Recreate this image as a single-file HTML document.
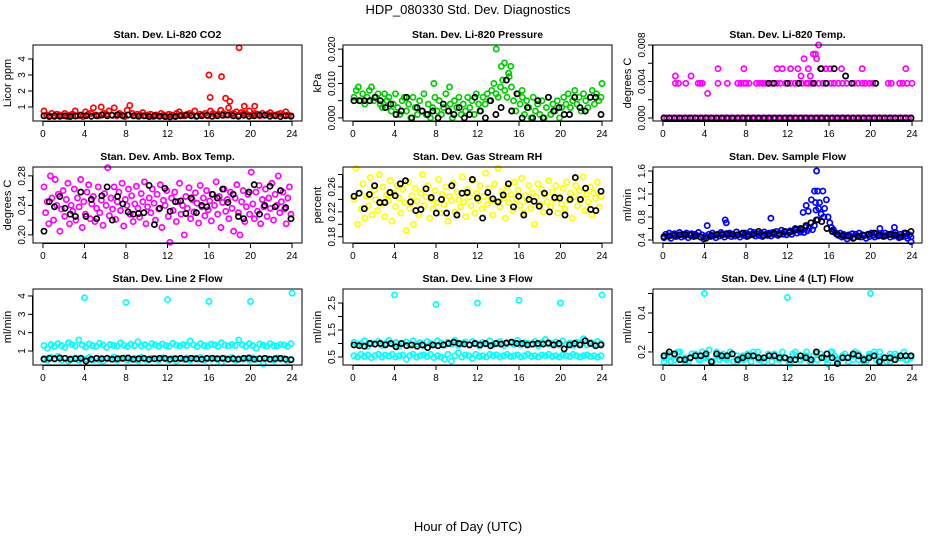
<!DOCTYPE html>
<html><head><meta charset="utf-8"><style>
body{margin:0;background:#fff}
svg{display:block;font-family:"Liberation Sans",Arial,sans-serif}
</style></head><body>
<svg id="chart" width="936" height="540" viewBox="0 0 936 540">
<text x="468" y="14" text-anchor="middle" font-size="13">HDP_080330  Std. Dev. Diagnostics</text>
<text x="468" y="531" text-anchor="middle" font-size="13">Hour of Day (UTC)</text>
</svg>
<script>
// ---------- data ----------
const xTicks = [0,4,8,12,16,20,24];
const co2Color = [0.75,0.5,0.45,0.6,0.4,0.55,0.5,0.45,0.6,0.4,0.5,0.55,0.75,0.45,0.5,0.4,0.7,0.55,0.6,0.95,0.5,0.45,1.0,0.6,0.55,0.75,0.5,0.95,0.45,0.6,0.5,0.4,0.8,1.1,0.6,0.45,0.55,0.5,0.65,0.45,0.5,0.55,0.4,0.5,0.45,0.6,0.5,0.4,0.55,0.5,0.45,0.6,0.7,0.5,0.45,0.55,0.6,0.5,0.75,0.45,0.55,0.5,0.6,0.45,0.75,0.6,0.5,0.55,0.8,0.6,0.5,0.95,0.55,0.6,0.7,0.5,0.65,0.6,0.55,0.75,0.5,0.6,0.55,0.45,0.6,0.5,0.55,0.65,0.5,0.45,0.55,0.6,0.5,0.7,0.5,0.45];
const co2OutHours = [16,16.1,17.2,17.6,18,18.9,19.4,20.4];
const co2OutVals = [3.0,1.6,2.9,1.55,1.35,4.7,1.05,1.05];
const co2Black = [0.45,0.4,0.45,0.42,0.45,0.4,0.44,0.48,0.45,0.42,0.45,0.5,0.45,0.48,0.52,0.45,0.5,0.45,0.42,0.45,0.4,0.45,0.42,0.4,0.38,0.4,0.45,0.48,0.45,0.42,0.45,0.48,0.42,0.45,0.48,0.5,0.45,0.42,0.48,0.42,0.45,0.5,0.48,0.42,0.45,0.4,0.45,0.42];

const presColor = [0.006,0.008,0.009,0.005,0.007,0.004,0.006,0.008,0.009,0.005,0.006,0.007,0.004,0.003,0.007,0.005,0.006,0.002,0.004,0.007,0.003,0.001,0.005,0.006,0.002,0.004,0.000,0.006,0.003,0.001,0.005,0.002,0.007,0.001,0.004,0.000,0.003,0.006,0.002,0.005,0.001,0.003,0.007,0.002,0.004,0.000,0.005,0.003,0.006,0.001,0.004,0.002,0.006,0.003,0.005,0.001,0.007,0.004,0.002,0.006,0.004,0.007,0.005,0.008,0.010,0.007,0.006,0.009,0.011,0.008,0.006,0.012,0.009,0.005,0.002,0.007,0.004,0.006,0.001,0.005,0.003,0.000,0.006,0.002,0.004,0.001,0.005,0.000,0.003,0.006,0.001,0.004,0.002,0.005,0.000,0.003,0.006,0.004,0.007,0.003,0.005,0.008,0.004,0.006,0.002,0.007,0.005,0.003,0.006,0.008,0.004,0.007,0.005,0.006];
const presOutHours = [7.8,13.8,14.3,14.6,15.0,15.2,24.0,9.3,16.3];
const presOutVals = [0.010,0.020,0.015,0.016,0.013,0.015,0.010,0.009,0.008];
const presBlack = [0.005,0.005,0.005,0.005,0.006,0.005,0.003,0.004,0.001,0.002,0.006,0.000,0.003,0.002,0.001,0.002,0.000,0.004,0.002,0.001,0.003,0.000,0.001,0.006,0.002,0.000,0.005,0.001,0.003,0.011,0.002,0.007,0.000,0.003,0.000,0.005,0.000,0.006,0.002,0.003,0.001,0.001,0.006,0.003,0.002,0.006,0.006,0.001];

const tempColor = [0,0,0,0,0,0,0,0,0,0,0,0,0,0,0,0,0,0,0,0,0,0,0,0,0,0,0,0,0,0,0,0,0,0,0,0,0,0,0,0,0,0,0,0,0,0,0,0,0,0,0,0,0,0,0,0,0,0,0,0,0,0,0,0,0,0,0,0,0,0,0,0,0,0,0,0,0,0,0,0,0,0,0,0,0,0,0,0,0,0,0,0,0,0,0,0];
const tempHighHours = [1.2,1.5,2.2,3.4,3.6,3.8,5.3,6.2,7.2,7.5,7.8,8.0,8.3,9.0,9.3,9.6,9.9,10.2,10.5,11.0,11.3,11.8,12.3,12.7,13.0,13.4,13.8,14.0,14.3,14.6,15.0,15.4,15.8,16.2,16.5,16.9,17.3,17.7,18.4,18.8,19.2,19.5,19.9,20.2,21.7,22.0,22.8,23.1,23.5,24.0,1.2,2.7,4.3,5.3,7.8,11.0,11.5,12.3,13.0,13.3,13.6,14.0,14.2,14.5,14.7,14.8,15.0,15.3,15.7,16.1,17.2,19.2,23.4];
const tempHighVals = [0.0038,0.0038,0.0038,0.0038,0.0038,0.0038,0.0038,0.0038,0.0038,0.0038,0.0038,0.0038,0.0038,0.0038,0.0038,0.0038,0.0038,0.0038,0.0038,0.0038,0.0038,0.0038,0.0038,0.0038,0.0038,0.0038,0.0038,0.0038,0.0038,0.0038,0.0038,0.0038,0.0038,0.0038,0.0038,0.0038,0.0038,0.0038,0.0038,0.0038,0.0038,0.0038,0.0038,0.0038,0.0038,0.0038,0.0038,0.0038,0.0038,0.0038,0.0046,0.0046,0.0027,0.0054,0.0054,0.0054,0.0054,0.0054,0.0054,0.0046,0.0065,0.0054,0.0046,0.0070,0.0070,0.0065,0.0080,0.0054,0.0054,0.0054,0.0054,0.0054,0.0054];
const tempBlack = [0,0,0,0,0,0,0,0,0,0,0,0,0,0,0,0,0,0,0,0,0,0,0,0,0,0,0,0,0,0,0,0,0,0,0,0,0,0,0,0,0,0,0,0,0,0,0,0];
const tempBlackOutHours = [10.2,10.7,12.0,13.1,14.5,15.7,17.6,18.2,20.5,15.2,16.5];
const tempBlackOutVals = [0.0038,0.0038,0.0038,0.0038,0.0038,0.0038,0.0046,0.0038,0.0038,0.0054,0.0054];

const ambColor = [0.265,0.23,0.245,0.215,0.28,0.25,0.22,0.275,0.24,0.255,0.205,0.235,0.26,0.225,0.248,0.27,0.215,0.24,0.232,0.262,0.22,0.25,0.238,0.275,0.21,0.245,0.228,0.258,0.268,0.222,0.242,0.252,0.218,0.236,0.265,0.23,0.247,0.213,0.256,0.24,0.291,0.226,0.25,0.235,0.265,0.221,0.245,0.258,0.233,0.27,0.212,0.248,0.24,0.262,0.228,0.253,0.218,0.242,0.266,0.236,0.224,0.256,0.245,0.272,0.215,0.238,0.25,0.23,0.262,0.243,0.22,0.255,0.235,0.268,0.21,0.247,0.24,0.26,0.225,0.19,0.25,0.233,0.258,0.218,0.245,0.27,0.228,0.24,0.2,0.252,0.236,0.264,0.222,0.248,0.231,0.257,0.243,0.216,0.267,0.238,0.25,0.226,0.26,0.234,0.246,0.219,0.255,0.24,0.272,0.228,0.252,0.21,0.244,0.262,0.232,0.248,0.222,0.258,0.236,0.205,0.25,0.268,0.23,0.2,0.245,0.26,0.218,0.238,0.255,0.228,0.285,0.242,0.222,0.258,0.232,0.267,0.215,0.248,0.238,0.262,0.225,0.25,0.236,0.27,0.22,0.255,0.24,0.28,0.23,0.245,0.258,0.235,0.215,0.25,0.265,0.228];
const ambBlack = [0.205,0.245,0.238,0.252,0.236,0.228,0.225,0.258,0.225,0.248,0.222,0.253,0.265,0.22,0.252,0.242,0.231,0.228,0.229,0.23,0.267,0.214,0.236,0.263,0.232,0.245,0.246,0.229,0.25,0.23,0.24,0.238,0.255,0.25,0.262,0.244,0.255,0.225,0.222,0.258,0.268,0.228,0.24,0.266,0.238,0.26,0.237,0.222];

const rhColor = [0.24,0.29,0.2,0.25,0.225,0.265,0.21,0.245,0.23,0.275,0.215,0.255,0.24,0.222,0.28,0.233,0.26,0.212,0.248,0.238,0.27,0.205,0.25,0.228,0.262,0.242,0.218,0.256,0.235,0.19,0.268,0.226,0.246,0.2,0.258,0.237,0.215,0.25,0.28,0.23,0.244,0.262,0.21,0.24,0.225,0.254,0.235,0.272,0.218,0.248,0.232,0.26,0.205,0.245,0.238,0.266,0.22,0.252,0.24,0.228,0.276,0.236,0.212,0.256,0.244,0.23,0.27,0.218,0.25,0.238,0.262,0.225,0.245,0.282,0.232,0.258,0.24,0.215,0.265,0.236,0.29,0.228,0.252,0.242,0.21,0.26,0.235,0.248,0.222,0.268,0.24,0.255,0.23,0.274,0.218,0.246,0.238,0.262,0.226,0.25,0.2,0.244,0.265,0.232,0.256,0.22,0.248,0.236,0.27,0.228,0.252,0.24,0.262,0.218,0.245,0.233,0.258,0.225,0.268,0.238,0.25,0.21,0.244,0.262,0.23,0.254,0.24,0.276,0.222,0.248,0.236,0.26,0.215,0.25,0.242,0.268,0.228,0.245];
const rhBlack = [0.245,0.25,0.225,0.248,0.262,0.235,0.235,0.251,0.246,0.265,0.27,0.236,0.222,0.224,0.257,0.243,0.218,0.24,0.218,0.262,0.215,0.25,0.251,0.272,0.242,0.21,0.251,0.241,0.236,0.247,0.265,0.228,0.245,0.215,0.24,0.237,0.229,0.25,0.22,0.243,0.242,0.215,0.24,0.275,0.24,0.258,0.224,0.222,0.253];

const flowColor = [0.44,0.5,0.47,0.52,0.43,0.49,0.51,0.46,0.48,0.53,0.45,0.5,0.47,0.52,0.44,0.49,0.51,0.46,0.5,0.48,0.53,0.45,0.49,0.42,0.47,0.65,0.5,0.46,0.52,0.48,0.44,0.5,0.47,0.53,0.49,0.45,0.51,0.48,0.52,0.46,0.5,0.47,0.54,0.49,0.45,0.51,0.48,0.52,0.46,0.5,0.55,0.49,0.53,0.47,0.51,0.48,0.52,0.46,0.54,0.5,0.48,0.52,0.47,0.53,0.5,0.55,0.48,0.52,0.57,0.5,0.54,0.49,0.53,0.56,0.5,0.55,0.6,0.52,0.57,0.54,0.58,0.53,0.62,0.56,0.6,0.7,0.58,0.65,0.92,0.75,1.05,0.85,1.25,0.95,1.1,0.8,0.7,0.62,0.58,0.53,0.5,0.48,0.52,0.45,0.5,0.47,0.42,0.49,0.46,0.51,0.44,0.5,0.47,0.52,0.45,0.49,0.48,0.43,0.5,0.46,0.52,0.48,0.45,0.51,0.47,0.6,0.49,0.46,0.52,0.48,0.5,0.45,0.51,0.47,0.53,0.48,0.44,0.5,0.46,0.52,0.47,0.43,0.49,0.45];
const flowOutHours = [14.8,14.6,14.9,13.8,14.0,14.3,13.5,14.7,15.0,6.0,6.1,10.4,15.5,22.3,23.9];
const flowOutVals = [1.6,1.25,1.25,1.0,0.9,1.1,0.88,1.05,0.95,0.75,0.7,0.78,0.8,0.62,0.37];
const flowBlack = [0.46,0.47,0.48,0.49,0.5,0.48,0.47,0.45,0.43,0.48,0.49,0.5,0.51,0.5,0.49,0.52,0.47,0.5,0.55,0.48,0.5,0.52,0.5,0.55,0.54,0.58,0.6,0.65,0.7,0.75,0.72,0.6,0.55,0.5,0.48,0.47,0.43,0.46,0.48,0.5,0.52,0.48,0.47,0.5,0.49,0.45,0.52,0.55];

const line2High = [1.3,1.15,1.35,1.25,1.4,1.3,1.2,1.45,1.35,1.28,1.6,1.32,1.22,1.38,1.3,1.25,1.42,1.33,1.2,1.36,1.3,1.27,1.44,1.31,1.24,1.37,1.3,1.5,1.28,1.35,1.22,1.4,1.33,1.26,1.38,1.3,1.25,1.42,1.32,1.28,1.36,1.3,1.55,1.34,1.24,1.4,1.3,1.27,1.37,1.33,1.25,1.45,1.32,1.28,1.36,1.3,1.6,1.34,1.25,1.4,1.3,1.15,1.38,1.32,1.26,1.4,1.3,1.28,1.36,1.33,1.25,1.4];
const line2Low = [0.6,0.5,0.65,0.55,0.7,0.5,0.6,0.45,0.55,0.62,0.5,0.58,0.55,0.65,0.5,0.6,0.52,0.45,0.6,0.55,0.68,0.5,0.58,0.62,0.5,0.55,0.6,0.48,0.65,0.55,0.5,0.6,0.57,0.52,0.63,0.55,0.5,0.6,0.45,0.58,0.55,0.62,0.5,0.6,0.55,0.65,0.5,0.58,0.55,0.6,0.52,0.35,0.6,0.55,0.65,0.5,0.58,0.55,0.6,0.5,0.62,0.55,0.58,0.3,0.6,0.55,0.5,0.62,0.55,0.6,0.45,0.55];
const line2OutHours = [4,8,12,16,20,24];
const line2OutVals = [3.9,3.65,3.8,3.7,3.7,4.15];
const line2Black = [0.55,0.6,0.58,0.62,0.6,0.55,0.58,0.6,0.45,0.55,0.6,0.58,0.6,0.55,0.58,0.6,0.62,0.55,0.58,0.6,0.55,0.58,0.6,0.6,0.55,0.58,0.6,0.55,0.6,0.58,0.55,0.6,0.6,0.58,0.6,0.55,0.58,0.55,0.6,0.62,0.55,0.58,0.6,0.55,0.58,0.6,0.55,0.52];

const line3High = [1.05,0.95,1.0,1.1,0.9,1.02,0.97,1.08,0.93,1.0,1.12,0.96,1.04,0.9,1.0,1.06,0.95,1.1,0.98,1.03,0.92,1.07,1.0,0.95,1.1,1.02,0.94,1.05,0.98,1.12,0.93,1.0,1.06,0.96,1.08,1.0,0.92,1.04,0.98,1.1,0.95,1.02,1.07,0.93,1.0,1.05,0.97,1.12,0.94,1.03,1.0,0.96,1.08,0.92,1.04,1.15,0.98,1.0,1.06,0.94,1.1,0.97,1.02,0.93,1.05,1.0,1.18,0.95,1.04,0.98,1.08,1.0];
const line3Low = [0.55,0.5,0.6,0.52,0.58,0.48,0.55,0.6,0.5,0.57,0.53,0.6,0.5,0.55,0.58,0.42,0.55,0.6,0.5,0.55,0.58,0.52,0.6,0.48,0.55,0.5,0.42,0.6,0.35,0.55,0.65,0.5,0.58,0.55,0.45,0.6,0.52,0.55,0.5,0.6,0.55,0.58,0.5,0.55,0.6,0.52,0.55,0.58,0.5,0.55,0.6,0.52,0.55,0.5,0.58,0.55,0.6,0.52,0.55,0.5,0.58,0.55,0.52,0.6,0.55,0.5,0.55,0.58,0.52,0.55,0.5,0.55];
const line3OutHours = [4,8,12,16,20,24];
const line3OutVals = [2.8,2.45,2.5,2.6,2.5,2.8];
const line3Black = [0.95,0.92,0.9,1.0,0.98,1.0,0.95,1.0,0.88,1.0,0.92,0.95,0.9,0.95,0.85,0.95,0.92,0.95,1.0,1.05,1.0,0.98,0.95,1.0,0.95,1.0,0.92,1.0,0.98,1.02,1.05,1.0,1.0,0.95,0.98,1.0,0.98,1.02,0.95,1.0,0.8,0.95,1.0,0.95,1.1,1.0,0.92,0.95];

const line4Color = [0.17,0.19,0.15,0.18,0.2,0.16,0.17,0.15,0.19,0.18,0.16,0.2,0.17,0.21,0.15,0.18,0.16,0.19,0.17,0.2,0.15,0.18,0.17,0.16,0.19,0.15,0.18,0.2,0.16,0.17,0.19,0.15,0.18,0.16,0.2,0.17,0.15,0.19,0.18,0.16,0.17,0.2,0.15,0.18,0.16,0.19,0.17,0.14,0.2,0.18,0.16,0.17,0.19,0.15,0.18,0.2,0.16,0.17,0.15,0.19,0.18,0.16,0.2,0.17,0.15,0.19,0.16,0.18,0.17,0.2,0.16,0.18];
const line4Color2 = [0.15,0.18,0.16,0.2,0.15,0.17,0.19,0.16,0.18,0.15,0.2,0.17,0.16,0.19,0.15,0.18,0.17,0.2,0.16,0.15,0.18,0.19,0.16,0.17,0.14,0.2,0.16,0.18,0.15,0.19,0.17,0.16,0.2,0.15,0.18,0.17,0.16,0.19,0.15,0.18,0.2,0.16,0.17,0.15,0.19,0.18,0.16,0.17];
const line4OutHours = [4,12,20];
const line4OutVals = [0.5,0.48,0.5];
const line4Black = [0.18,0.2,0.19,0.16,0.16,0.17,0.18,0.18,0.19,0.15,0.19,0.18,0.18,0.19,0.16,0.17,0.18,0.18,0.17,0.17,0.18,0.18,0.17,0.17,0.16,0.16,0.18,0.17,0.16,0.2,0.17,0.19,0.17,0.14,0.17,0.17,0.19,0.18,0.16,0.17,0.18,0.15,0.17,0.17,0.16,0.18,0.18,0.18];

// ---------- layout ----------
const NS = "http://www.w3.org/2000/svg";
const svg = document.getElementById('chart');
const colLeft = [33, 343, 653], rowTop = [45, 167, 289], BW = 269, BH = 76;
function el(tag, attrs, parent){const e=document.createElementNS(NS,tag);for(const k in attrs)e.setAttribute(k,attrs[k]);(parent||svg).appendChild(e);return e;}
function even(vals){return vals.map((v,i)=>0.1+i*23.8/(vals.length-1));}

const panels = [
 {name:'co2',title:'Stan. Dev. Li-820 CO2',ylab:'Licor ppm',ymin:0.125,ymax:4.875,ticks:[1,2,3,4],labels:['1','2','3','4'],
  series:[[even(co2Color),co2Color,'#ff0000'],[co2OutHours,co2OutVals,'#ff0000'],[even(co2Black),co2Black,'#000']]},
 {name:'pressure',title:'Stan. Dev. Li-820 Pressure',ylab:'kPa',ymin:-0.0009,ymax:0.0212,ticks:[0,0.005,0.01,0.015,0.02],labels:['0.000','','0.010','','0.020'],
  series:[[even(presColor),presColor,'#00cd00'],[presOutHours,presOutVals,'#00cd00'],[even(presBlack),presBlack,'#000']]},
 {name:'li820-temp',title:'Stan. Dev. Li-820 Temp.',ylab:'degrees C',ymin:-0.00033,ymax:0.008,ticks:[0,0.002,0.004,0.006,0.008],labels:['0.000','','0.004','','0.008'],
  series:[[even(tempColor),tempColor,'#ff00ff'],[tempHighHours,tempHighVals,'#ff00ff'],[even(tempBlack),tempBlack,'#000'],[tempBlackOutHours,tempBlackOutVals,'#000']]},
 {name:'amb-box-temp',title:'Stan. Dev. Amb. Box Temp.',ylab:'degrees C',ymin:0.189,ymax:0.292,ticks:[0.2,0.22,0.24,0.26,0.28],labels:['0.20','','0.24','','0.28'],
  series:[[even(ambColor),ambColor,'#ff00ff'],[even(ambBlack),ambBlack,'#000']]},
 {name:'gas-stream-rh',title:'Stan. Dev. Gas Stream RH',ylab:'percent',ymin:0.170,ymax:0.292,ticks:[0.18,0.2,0.22,0.24,0.26,0.28],labels:['0.18','','0.22','','0.26',''],
  series:[[even(rhColor),rhColor,'#ffff00'],[even(rhBlack),rhBlack,'#000']]},
 {name:'sample-flow',title:'Stan. Dev. Sample Flow',ylab:'ml/min',ymin:0.348,ymax:1.67,ticks:[0.4,0.6,0.8,1.0,1.2,1.4,1.6],labels:['0.4','','0.8','','1.2','','1.6'],
  series:[[even(flowColor),flowColor,'#0000ff'],[flowOutHours,flowOutVals,'#0000ff'],[even(flowBlack),flowBlack,'#000']]},
 {name:'line2-flow',title:'Stan. Dev. Line 2 Flow',ylab:'ml/min',ymin:0.236,ymax:4.38,ticks:[1,2,3,4],labels:['1','2','3','4'],
  series:[[even(line2High),line2High,'#00ffff'],[even(line2Low),line2Low,'#00ffff'],[line2OutHours,line2OutVals,'#00ffff'],[even(line2Black),line2Black,'#000']]},
 {name:'line3-flow',title:'Stan. Dev. Line 3 Flow',ylab:'ml/min',ymin:0.204,ymax:3.02,ticks:[0.5,1,1.5,2,2.5],labels:['0.5','','1.5','','2.5'],
  series:[[even(line3High),line3High,'#00ffff'],[even(line3Low),line3Low,'#00ffff'],[line3OutHours,line3OutVals,'#00ffff'],[even(line3Black),line3Black,'#000']]},
 {name:'line4-flow',title:'Stan. Dev. Line 4 (LT) Flow',ylab:'ml/min',ymin:0.133,ymax:0.523,ticks:[0.2,0.3,0.4,0.5],labels:['0.2','','0.4',''],
  series:[[even(line4Color),line4Color,'#00ffff'],[even(line4Color2),line4Color2,'#00ffff'],[line4OutHours,line4OutVals,'#00ffff'],[even(line4Black),line4Black,'#000']]}
];

panels.forEach((p,idx)=>{
  const L = colLeft[idx%3], T = rowTop[Math.floor(idx/3)];
  const g = el('g',{});
  
  
  const pad = BW*0.04/1.08;
  const xs = h => L + pad + h/24*(BW-2*pad);
  const ys = v => T + BH - (v-p.ymin)/(p.ymax-p.ymin)*BH;
  const t = el('text',{x:L+BW/2,y:T-7,'text-anchor':'middle','font-size':'10.5','font-weight':'bold'},g);
  t.textContent = p.title;
  
  
  const yl = el('text',{x:0,y:0,'text-anchor':'middle','font-size':'11',transform:`translate(${L-22},${T+BH/2}) rotate(-90)`},g);
  yl.textContent = p.ylab;
  
  
  const pg = el('g',{fill:'none','stroke-width':'1.7'},g);
  
  
  p.series.forEach(([hs,vs,col])=>{
    vs.forEach((v,i)=>{
      const c = el('circle',{cx:xs(hs[i]).toFixed(1),cy:ys(v).toFixed(1),r:'2.6',stroke:col},pg);
      
      
    });
  });
  const box = el('rect',{x:L,y:T,width:BW,height:BH,fill:'none',stroke:'#000','stroke-width':'1'},g);
  
  
  xTicks.forEach(h=>{
    const x = xs(h);
    el('line',{x1:x,x2:x,y1:T+BH,y2:T+BH+5,stroke:'#000'},g);
    const tl = el('text',{x:x,y:T+BH+16,'text-anchor':'middle','font-size':'10'},g);
    tl.textContent = h;
    
    
  });
  el('line',{x1:xs(0),x2:xs(24),y1:T+BH+0.5,y2:T+BH+0.5,stroke:'#000'},g);
  p.ticks.forEach((v,i)=>{
    const y = ys(v);
    el('line',{x1:L-5,x2:L,y1:y,y2:y,stroke:'#000'},g);
    if(p.labels[i]){
      const tl = el('text',{x:0,y:0,'text-anchor':'middle','font-size':'10',transform:`translate(${L-8},${y}) rotate(-90)`},g);
      tl.textContent = p.labels[i];
      
      
    }
  });
  el('line',{x1:L-0.5,x2:L-0.5,y1:ys(p.ticks[0]),y2:ys(p.ticks[p.ticks.length-1]),stroke:'#000'},g);
});
</script>
</body></html>
